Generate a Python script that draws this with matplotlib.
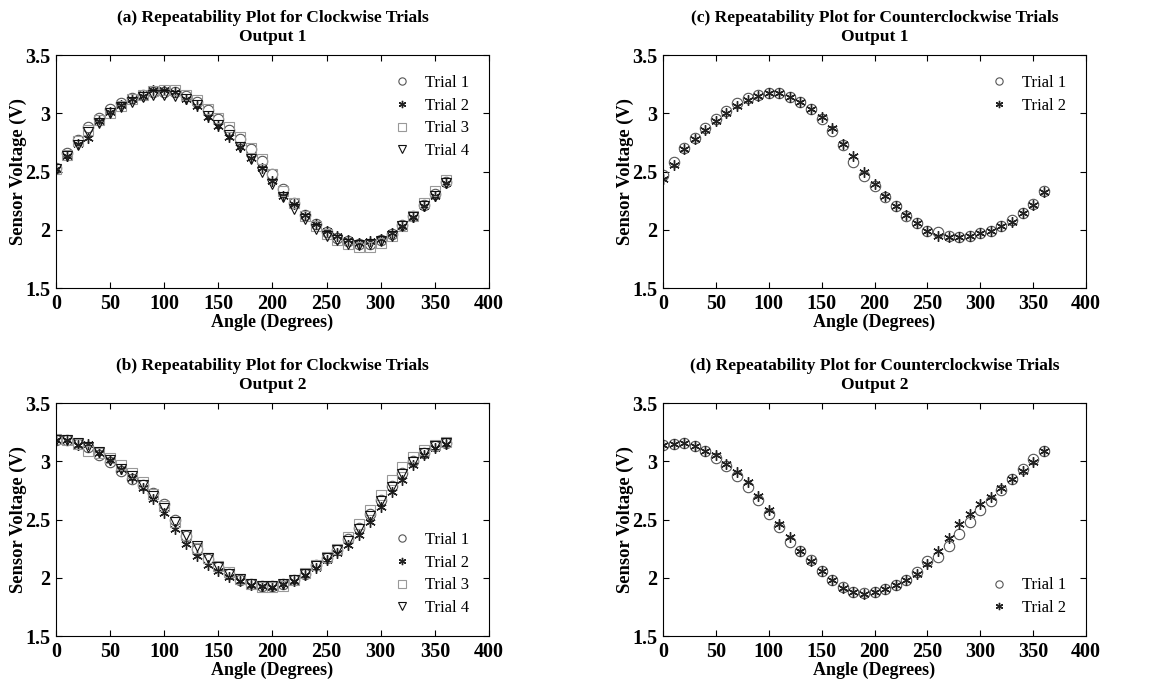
import matplotlib
matplotlib.use("Agg")
import matplotlib.pyplot as plt

plt.rcParams['font.family'] = ['Liberation Serif', 'DejaVu Serif']

# angles (degrees), one point every 10 degrees
angles = list(range(0, 370, 10))

# (a) clockwise, output 1
cw_out1_t1 = [2.53, 2.66, 2.77, 2.88, 2.96, 3.04, 3.09, 3.13, 3.16, 3.18, 3.18, 3.18, 3.15,
              3.10, 3.03, 2.95, 2.86, 2.78, 2.69, 2.59, 2.48, 2.35, 2.23, 2.13, 2.05, 1.98,
              1.93, 1.90, 1.88, 1.88, 1.91, 1.96, 2.04, 2.12, 2.21, 2.31, 2.41]
cw_out1_t2 = [2.52, 2.63, 2.74, 2.79, 2.93, 3.01, 3.07, 3.12, 3.15, 3.20, 3.20, 3.18, 3.12,
              3.06, 2.97, 2.89, 2.80, 2.71, 2.62, 2.53, 2.42, 2.29, 2.22, 2.13, 2.05, 1.99,
              1.95, 1.91, 1.89, 1.90, 1.92, 1.97, 2.03, 2.11, 2.20, 2.29, 2.40]
cw_out1_t3 = [2.52, 2.64, 2.76, 2.86, 2.94, 3.00, 3.06, 3.12, 3.16, 3.19, 3.20, 3.20, 3.16,
              3.11, 3.04, 2.96, 2.88, 2.80, 2.70, 2.61, 2.48, 2.33, 2.23, 2.12, 2.03, 1.96,
              1.91, 1.88, 1.85, 1.85, 1.89, 1.95, 2.03, 2.12, 2.23, 2.33, 2.43]
cw_out1_t4 = [2.52, 2.63, 2.73, 2.84, 2.92, 3.00, 3.05, 3.10, 3.14, 3.16, 3.16, 3.15, 3.12,
              3.07, 2.98, 2.90, 2.81, 2.71, 2.61, 2.50, 2.39, 2.28, 2.18, 2.09, 2.01, 1.95,
              1.91, 1.88, 1.87, 1.88, 1.90, 1.95, 2.03, 2.11, 2.20, 2.29, 2.40]

# (b) clockwise, output 2
cw_out2_t1 = [3.18, 3.18, 3.15, 3.12, 3.05, 2.99, 2.92, 2.85, 2.80, 2.73, 2.63, 2.50, 2.36,
              2.25, 2.16, 2.09, 2.03, 1.98, 1.95, 1.93, 1.93, 1.95, 1.98, 2.03, 2.11, 2.17,
              2.24, 2.33, 2.43, 2.55, 2.67, 2.79, 2.90, 3.00, 3.07, 3.13, 3.16]
cw_out2_t2 = [3.18, 3.18, 3.14, 3.15, 3.07, 3.01, 2.93, 2.86, 2.77, 2.68, 2.56, 2.42, 2.29,
              2.19, 2.11, 2.06, 2.01, 1.97, 1.94, 1.93, 1.92, 1.95, 1.97, 2.02, 2.08, 2.15,
              2.21, 2.28, 2.37, 2.48, 2.61, 2.74, 2.84, 2.97, 3.05, 3.11, 3.15]
cw_out2_t3 = [3.19, 3.18, 3.15, 3.09, 3.07, 3.03, 2.97, 2.90, 2.82, 2.72, 2.62, 2.48, 2.37,
              2.26, 2.17, 2.10, 2.05, 1.99, 1.95, 1.92, 1.92, 1.93, 1.98, 2.04, 2.11, 2.18,
              2.25, 2.35, 2.46, 2.58, 2.71, 2.84, 2.95, 3.04, 3.10, 3.14, 3.17]
cw_out2_t4 = [3.18, 3.18, 3.16, 3.12, 3.08, 3.01, 2.93, 2.87, 2.80, 2.70, 2.60, 2.48, 2.37,
              2.27, 2.17, 2.09, 2.03, 1.99, 1.95, 1.93, 1.93, 1.95, 1.98, 2.03, 2.10, 2.17,
              2.24, 2.32, 2.42, 2.53, 2.66, 2.78, 2.89, 2.99, 3.07, 3.13, 3.16]

# (c) counterclockwise, output 1
ccw_out1_t1 = [2.47, 2.58, 2.70, 2.79, 2.87, 2.95, 3.02, 3.09, 3.13, 3.16, 3.17, 3.17, 3.14,
               3.10, 3.04, 2.95, 2.85, 2.73, 2.58, 2.46, 2.38, 2.28, 2.20, 2.12, 2.06, 1.99,
               1.98, 1.95, 1.94, 1.95, 1.97, 1.99, 2.03, 2.08, 2.14, 2.22, 2.33]
ccw_out1_t2 = [2.44, 2.56, 2.69, 2.78, 2.86, 2.93, 3.00, 3.06, 3.11, 3.15, 3.17, 3.17, 3.14,
               3.10, 3.04, 2.97, 2.87, 2.74, 2.63, 2.50, 2.39, 2.29, 2.20, 2.13, 2.06, 1.99,
               1.95, 1.94, 1.94, 1.95, 1.97, 1.99, 2.03, 2.07, 2.14, 2.21, 2.32]

# (d) counterclockwise, output 2
ccw_out2_t1 = [3.14, 3.15, 3.16, 3.13, 3.09, 3.03, 2.96, 2.87, 2.78, 2.67, 2.55, 2.44, 2.31,
               2.23, 2.15, 2.06, 1.98, 1.92, 1.88, 1.87, 1.88, 1.90, 1.94, 1.98, 2.05, 2.14,
               2.18, 2.27, 2.38, 2.48, 2.58, 2.66, 2.75, 2.85, 2.93, 3.02, 3.09]
ccw_out2_t2 = [3.14, 3.15, 3.16, 3.13, 3.09, 3.05, 2.98, 2.91, 2.82, 2.70, 2.58, 2.46, 2.35,
               2.23, 2.14, 2.06, 1.98, 1.91, 1.88, 1.86, 1.88, 1.90, 1.94, 1.98, 2.03, 2.12,
               2.23, 2.34, 2.46, 2.55, 2.63, 2.69, 2.77, 2.85, 2.92, 2.99, 3.09]

trial_labels = ["Trial 1", "Trial 2", "Trial 3", "Trial 4"]
# marker, edge colour per trial (asterisk drawn as 6-armed star)
styles = [("o", "#555555"), ((6, 2, 0), "#222222"), ("s", "#999999"), ("v", "#111111")]


def draw(ax, title, series, legend_loc):
    for vals, lab, (m, c) in zip(series, trial_labels, styles):
        ax.plot(angles, vals, ls="none", marker=m, ms=7.5, mfc="none", mec=c,
                mew=1.0 if m == (6, 2, 0) else 0.8, label=lab)
    ax.set_xlim(0, 400)
    ax.set_ylim(1.5, 3.5)
    ax.set_xticks(range(0, 401, 50))
    ax.set_yticks([1.5, 2, 2.5, 3, 3.5])
    ax.set_yticklabels(["1.5", "2", "2.5", "3", "3.5"])
    ax.tick_params(direction="in", top=True, right=True, length=4, width=0.8,
                   labelsize=14.5, pad=4)
    for t in ax.get_xticklabels() + ax.get_yticklabels():
        t.set_fontweight("bold")
    ax.set_xlabel("Angle (Degrees)", fontsize=13, fontweight="bold", labelpad=0)
    ax.set_ylabel("Sensor Voltage (V)", fontsize=13.3, fontweight="bold", labelpad=-1)
    ax.set_title(title, fontsize=12.5, fontweight="bold", linespacing=1.25, pad=10)
    ax.legend(loc=legend_loc, frameon=False, fontsize=12, handletextpad=0.6,
              handlelength=1.5, labelspacing=0.4, markerscale=0.7, borderaxespad=0.8)


fig = plt.figure(figsize=(11.54, 6.82), dpi=100)
ax_a = fig.add_axes([0.0485, 0.5777, 0.3752, 0.3416])
ax_b = fig.add_axes([0.0485, 0.0674, 0.3752, 0.3416])
ax_c = fig.add_axes([0.5745, 0.5777, 0.3666, 0.3416])
ax_d = fig.add_axes([0.5745, 0.0674, 0.3666, 0.3416])

draw(ax_a, "(a) Repeatability Plot for Clockwise Trials\nOutput 1",
     [cw_out1_t1, cw_out1_t2, cw_out1_t3, cw_out1_t4], "upper right")
draw(ax_b, "(b) Repeatability Plot for Clockwise Trials\nOutput 2",
     [cw_out2_t1, cw_out2_t2, cw_out2_t3, cw_out2_t4], "lower right")
draw(ax_c, "(c) Repeatability Plot for Counterclockwise Trials\nOutput 1",
     [ccw_out1_t1, ccw_out1_t2], "upper right")
draw(ax_d, "(d) Repeatability Plot for Counterclockwise Trials\nOutput 2",
     [ccw_out2_t1, ccw_out2_t2], "lower right")

fig.savefig("out.png", dpi=100)
